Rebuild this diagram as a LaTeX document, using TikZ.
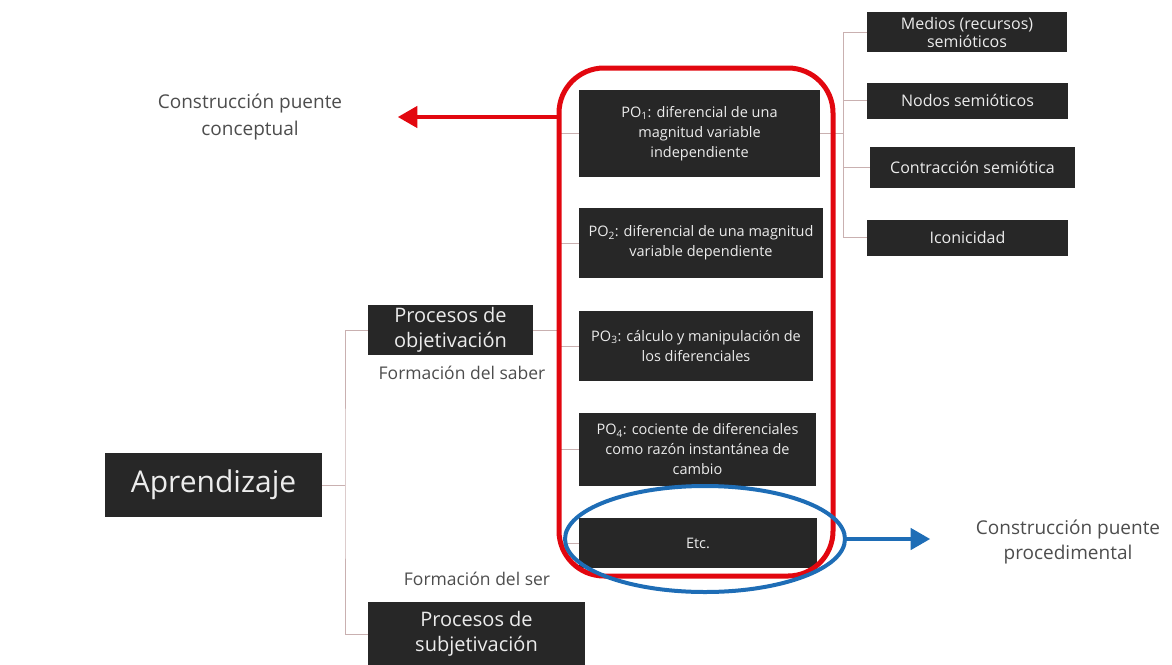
\documentclass[tikz,border=0pt]{standalone}
\usepackage{fontspec}
\setmainfont{Open Sans}
\usepackage{xcolor}
\usetikzlibrary{shapes.geometric, arrows, positioning}
\definecolor{boxgray}{HTML}{272727}
\definecolor{boxtext}{HTML}{ECECEC}
\definecolor{treeline}{HTML}{C9B0B0}
\definecolor{markred}{HTML}{E2070F}
\definecolor{markblue}{HTML}{1E6DB6}
\definecolor{notegray}{HTML}{4D4D4D}
\tikzstyle{concept} = [rectangle, fill=boxgray, text=boxtext, inner sep=0pt, align=center]
\tikzstyle{po} = [concept, font=\fontsize{14.5}{20}\selectfont]
\tikzstyle{sign} = [concept, minimum height=36pt, font=\fontsize{16}{18}\selectfont]
\tikzstyle{proc} = [concept, font=\fontsize{20}{25}\selectfont]
\tikzstyle{note} = [text=notegray, align=center]
\tikzstyle{branch} = [draw=treeline, line width=1pt]
\tikzstyle{bridge} = [line width=4.5pt, -triangle 60]

\begin{document}
\begin{tikzpicture}[x=1pt, y=-1pt]
   \useasboundingbox (0,0) rectangle (1172,664);
   \coordinate (fork) at (345,485);
   \coordinate (pofork) at (558,330);
   \coordinate (signfork) at (843,133.5);
   \node (ap) [concept, minimum width=217pt, minimum height=64pt, font=\fontsize{30}{34}\selectfont] at (213.5,485) {Aprendizaje};
   \node (obj) [proc, minimum width=165pt, minimum height=50pt] at (450.5,330) {Procesos de\\objetivación};
   \node (subj) [proc, minimum width=217pt, minimum height=64pt] at (476.5,634) {Procesos de\\subjetivación};
   \node (saber) [note, font=\fontsize{17.5}{20}\selectfont] at (462,373) {Formación del saber};
   \node (ser) [note, font=\fontsize{17.5}{20}\selectfont] at (477,579) {Formación del ser};
   \node (po1) [po, minimum width=241pt, minimum height=87pt] at (699.5,133.5) {PO\textsubscript{1}: diferencial de una\\magnitud variable\\independiente};
   \node (po2) [po, minimum width=244pt, minimum height=70pt] at (701,243) {PO\textsubscript{2}: diferencial de una magnitud\\variable dependiente};
   \node (po3) [po, minimum width=234pt, minimum height=70pt] at (696,346) {PO\textsubscript{3}: cálculo y manipulación de\\los diferenciales};
   \node (po4) [po, minimum width=237pt, minimum height=73pt] at (697.5,449.5) {PO\textsubscript{4}: cociente de diferenciales\\como razón instantánea de\\cambio};
   \node (etc) [po, minimum width=238pt, minimum height=50pt] at (698,543) {Etc.};
   \node (m1) [sign, minimum width=200pt, minimum height=40pt] at (967,32) {Medios (recursos)\\semióticos};
   \node (m2) [sign, minimum width=201pt] at (967.5,100.5) {Nodos semióticos};
   \node (m3) [sign, minimum width=205pt, minimum height=41pt] at (972.5,167.5) {Contracción semiótica};
   \node (m4) [sign, minimum width=201pt] at (967.5,237.5) {Iconicidad};
   \node (conc) [note, font=\fontsize{19}{27}\selectfont] at (250,117) {Construcción puente\\conceptual};
   \node (proced) [note, font=\fontsize{19}{25}\selectfont] at (1068,542) {Construcción puente\\procedimental};
   \draw [branch] (ap) -- (fork);
   \draw [branch] (obj.west) -| (fork) |- (subj.west);
   \draw [branch] (obj.east) -- (pofork);
   \foreach \p in {po1,po2,po3,po4,etc}
      \draw [branch] (pofork) |- (\p.west);
   \draw [branch] (po1.east) -- (signfork);
   \foreach \m in {m1,m2,m3,m4}
      \draw [branch] (signfork) |- (\m.west);
   \draw [markred, line width=5pt, rounded corners=45pt] (559,68) rectangle (833,576);
   \coordinate (redside) at (559,117);
   \draw [bridge, markred] (redside) -- (398,117);
   \node (loop) [ellipse, draw=markblue, line width=4pt, minimum width=280pt, minimum height=106pt] at (705,539) {};
   \draw [bridge, markblue] (loop.east) -- (930,539);
\end{tikzpicture}
\end{document}
